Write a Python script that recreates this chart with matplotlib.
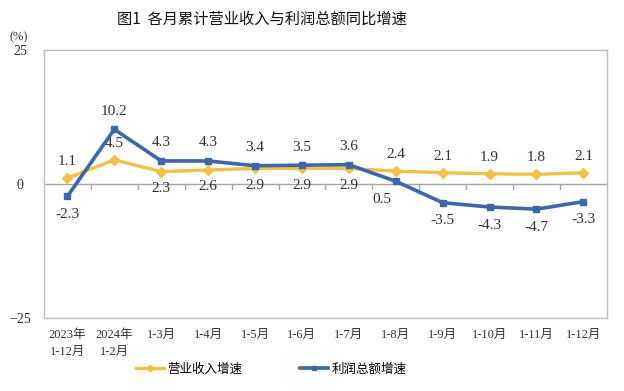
import numpy as np
import matplotlib.pyplot as plt

plt.rcParams['font.family'] = ['Liberation Serif', 'Noto Sans CJK SC']

months = ['2023年\n1-12月', '2024年\n1-2月', '1-3月', '1-4月', '1-5月', '1-6月',
          '1-7月', '1-8月', '1-9月', '1-10月', '1-11月', '1-12月']
revenue = [1.1, 4.5, 2.3, 2.6, 2.9, 2.9, 2.9, 2.4, 2.1, 1.9, 1.8, 2.1]
profit = [-2.3, 10.2, 4.3, 4.3, 3.4, 3.5, 3.6, 0.5, -3.5, -4.3, -4.7, -3.3]
# label placement: 1 above, -1 below
rev_pos = [1, 1, -1, -1, -1, -1, -1, 1, 1, 1, 1, 1]
pro_pos = [-1, 1, 1, 1, 1, 1, 1, -1, -1, -1, -1, -1]

yellow = '#F2C14A'
blue = '#3D67AA'

fig = plt.figure(figsize=(6.24, 3.91), dpi=100)
ax = fig.add_axes([0.0705, 0.187, 0.902, 0.685])
x = np.arange(len(months))

ax.axhline(0, color='#A6A6A6', lw=1, zorder=1)
for b in x[:-1] + 0.5:
    ax.plot([b, b], [0, -0.9], color='#A6A6A6', lw=1, zorder=1)

ax.plot(x, revenue, color=yellow, lw=2.4, marker='D', ms=5, label='营业收入增速', zorder=3)
ax.plot(x, profit, color=blue, lw=2.6, marker='s', ms=5, label='利润总额增速', zorder=4)

for i in x:
    ax.annotate(f'{revenue[i]}', (i, revenue[i]), xytext=(0, 12 * rev_pos[i]),
                textcoords='offset points', ha='center', va='center', fontsize=11, color='#333333')
    dx = -10 if i == 7 else 0
    ax.annotate(f'{profit[i]}', (i, profit[i]), xytext=(dx, 13 * pro_pos[i]),
                textcoords='offset points', ha='center', va='center', fontsize=11, color='#333333')

ax.set_xlim(-0.5, len(months) - 0.5)
ax.set_ylim(-25, 25)
ax.set_yticks([-25, 0, 25])
ax.set_xticks(x)
ax.set_xticklabels(months, fontsize=9, linespacing=1.5, va='top', ha='center')
ax.tick_params(axis='both', length=0, labelsize=10, colors='#333333')
ax.tick_params(axis='x', pad=8, labelsize=9)
ax.tick_params(axis='y', pad=17)
for lab in ax.get_yticklabels():
    lab.set_horizontalalignment('center')
for s in ax.spines.values():
    s.set_color('#BFBFBF')
    s.set_linewidth(1)

fig.text(0.03, 0.905, '(%)', fontsize=9, ha='center', va='center', color='#333333')
fig.text(0.42, 0.95, '图1  各月累计营业收入与利润总额同比增速', fontsize=11,
         ha='center', va='center', family=['Noto Sans CJK SC'], color='#111111',
         weight='medium')

fig.legend(loc='center', bbox_to_anchor=(0.435, 0.055), ncol=2, frameon=False,
           fontsize=9, handlelength=2.2, handletextpad=0.3, columnspacing=4.6,
           markerscale=0.7)

fig.savefig('out.png', dpi=100)
